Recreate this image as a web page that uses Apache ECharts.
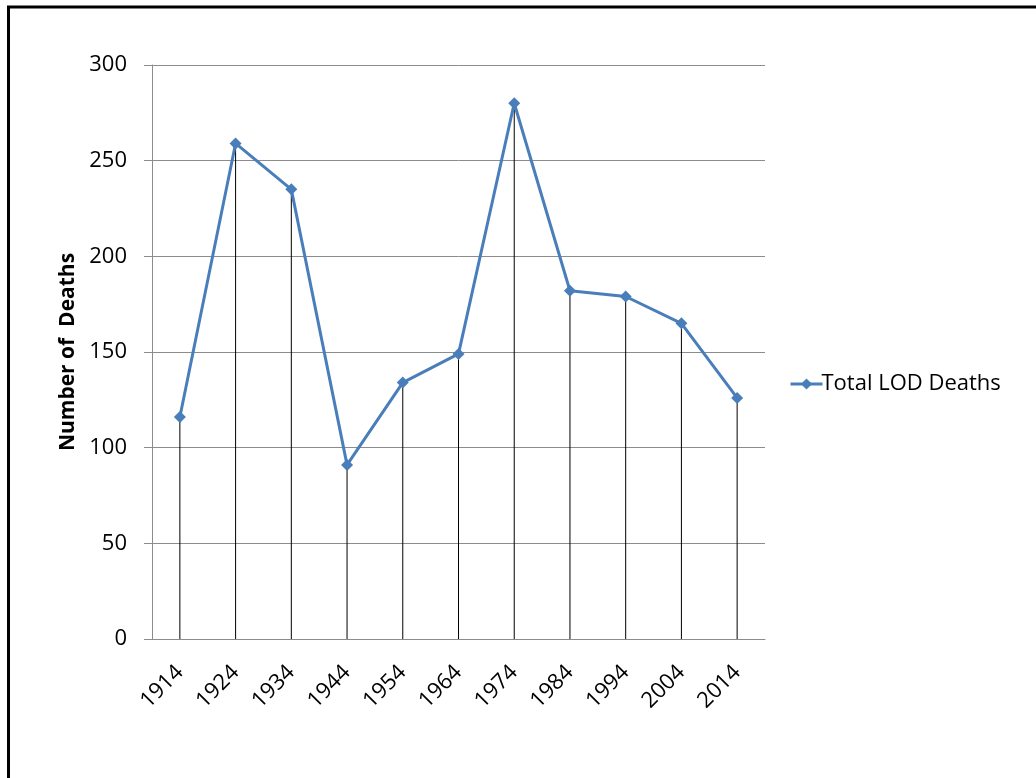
<!DOCTYPE html>
<html>
<head>
<meta charset="utf-8">
<script src="https://cdn.jsdelivr.net/npm/echarts@6/dist/echarts.min.js"></script>
<style>
html,body{margin:0;padding:0;background:#fff;}
#chart{width:1036px;height:778px;}
</style>
</head>
<body>
<div id="chart"></div>
<script>
const categories = ['1914','1924','1934','1944','1954','1964','1974','1984','1994','2004','2014'];
const deaths = [116, 259, 235, 91, 134, 149, 280, 182, 179, 165, 126];
const seriesName = 'Total LOD Deaths';
const yTitle = 'Number of  Deaths';

const FONT = '"Open Sans", "Liberation Sans", Arial, sans-serif';
const chart = echarts.init(document.getElementById('chart'), null, {renderer: 'canvas'});
chart.setOption({
  animation: false,
  backgroundColor: '#fff',
  graphic: [{
    type: 'rect', z: 100, silent: true,
    shape: {x: 8.5, y: 7, width: 1200, height: 1000},
    style: {fill: 'none', stroke: '#000', lineWidth: 3}
  }],
  grid: {left: 152, right: 271, top: 65, bottom: 139, containLabel: false},
  legend: {
    data: [seriesName],
    left: 784, top: 368,
    itemWidth: 32, itemHeight: 14, itemGap: 4,
    lineStyle: {width: 3},
    textStyle: {fontFamily: FONT, fontSize: 22, color: '#000', padding: [0,0,0,-6]}
  },
  xAxis: {
    type: 'category',
    data: categories,
    boundaryGap: true,
    axisLine: {show: true, lineStyle: {color: '#8c8c8c', width: 1}},
    axisTick: {show: false},
    splitLine: {show: false},
    axisLabel: {rotate: 45, margin: 30, fontFamily: FONT, fontSize: 22, color: '#000', interval: 0}
  },
  yAxis: {
    type: 'value',
    min: 0, max: 300, interval: 50,
    name: yTitle,
    nameLocation: 'middle',
    nameGap: 71,
    nameRotate: 90,
    nameTextStyle: {fontFamily: FONT, fontSize: 21, fontWeight: 'bold', color: '#000'},
    axisLine: {show: true, lineStyle: {color: '#8c8c8c', width: 1}},
    axisTick: {show: true, length: 8, lineStyle: {color: '#8c8c8c'}},
    splitLine: {show: true, lineStyle: {color: '#8c8c8c', width: 1}},
    axisLabel: {margin: 25, fontFamily: FONT, fontSize: 22, color: '#000'}
  },
  series: [
    {
      name: 'drop',
      type: 'bar',
      data: deaths,
      barWidth: 1,
      itemStyle: {color: '#000'},
      silent: true,
      z: 1
    },
    {
      name: seriesName,
      type: 'line',
      data: deaths,
      symbol: 'diamond',
      symbolSize: 12,
      lineStyle: {color: '#4a7ebb', width: 3},
      itemStyle: {color: '#4a7ebb'},
      z: 3
    }
  ]
});
</script>
</body>
</html>
